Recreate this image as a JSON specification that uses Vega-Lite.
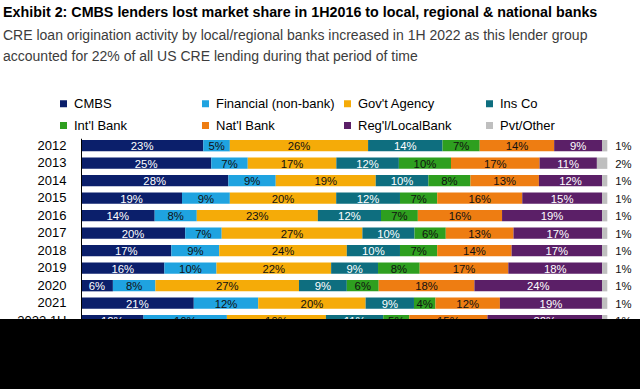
{
  "$schema": "https://vega.github.io/schema/vega-lite/v6.json",
  "width": 640,
  "height": 319,
  "autosize": {"type": "none"},
  "padding": {"left": 0, "top": 0, "right": 0, "bottom": 70},
  "background": "black",
  "view": {"fill": "white", "stroke": null},
  "title": {
    "text": "Exhibit 2: CMBS lenders lost market share in 1H2016 to local, regional & national banks",
    "subtitle": ["CRE loan origination activity by local/regional banks increased in 1H 2022 as this lender group", "accounted for 22% of all US CRE lending during that period of time"],
    "anchor": "start",
    "frame": "group",
    "orient": "top",
    "offset": -64,
    "dx": 3,
    "font": "Liberation Sans",
    "fontSize": 14.3,
    "fontWeight": "bold",
    "color": "black",
    "subtitleFont": "Liberation Sans",
    "subtitleFontSize": 14,
    "subtitleColor": "#3c3c3c",
    "subtitleLineHeight": 21,
    "subtitlePadding": 9
  },
  "data": {"values": [
    {"period": "2012", "lender": "CMBS", "order": 1, "share": 0.23},
    {"period": "2012", "lender": "Financial (non-bank)", "order": 2, "share": 0.05},
    {"period": "2012", "lender": "Gov't Agency", "order": 3, "share": 0.26},
    {"period": "2012", "lender": "Ins Co", "order": 4, "share": 0.14},
    {"period": "2012", "lender": "Int'l Bank", "order": 5, "share": 0.07},
    {"period": "2012", "lender": "Nat'l Bank", "order": 6, "share": 0.14},
    {"period": "2012", "lender": "Reg'l/LocalBank", "order": 7, "share": 0.09},
    {"period": "2012", "lender": "Pvt/Other", "order": 8, "share": 0.01},
    {"period": "2013", "lender": "CMBS", "order": 1, "share": 0.25},
    {"period": "2013", "lender": "Financial (non-bank)", "order": 2, "share": 0.07},
    {"period": "2013", "lender": "Gov't Agency", "order": 3, "share": 0.17},
    {"period": "2013", "lender": "Ins Co", "order": 4, "share": 0.12},
    {"period": "2013", "lender": "Int'l Bank", "order": 5, "share": 0.10},
    {"period": "2013", "lender": "Nat'l Bank", "order": 6, "share": 0.17},
    {"period": "2013", "lender": "Reg'l/LocalBank", "order": 7, "share": 0.11},
    {"period": "2013", "lender": "Pvt/Other", "order": 8, "share": 0.02},
    {"period": "2014", "lender": "CMBS", "order": 1, "share": 0.28},
    {"period": "2014", "lender": "Financial (non-bank)", "order": 2, "share": 0.09},
    {"period": "2014", "lender": "Gov't Agency", "order": 3, "share": 0.19},
    {"period": "2014", "lender": "Ins Co", "order": 4, "share": 0.10},
    {"period": "2014", "lender": "Int'l Bank", "order": 5, "share": 0.08},
    {"period": "2014", "lender": "Nat'l Bank", "order": 6, "share": 0.13},
    {"period": "2014", "lender": "Reg'l/LocalBank", "order": 7, "share": 0.12},
    {"period": "2014", "lender": "Pvt/Other", "order": 8, "share": 0.01},
    {"period": "2015", "lender": "CMBS", "order": 1, "share": 0.19},
    {"period": "2015", "lender": "Financial (non-bank)", "order": 2, "share": 0.09},
    {"period": "2015", "lender": "Gov't Agency", "order": 3, "share": 0.20},
    {"period": "2015", "lender": "Ins Co", "order": 4, "share": 0.12},
    {"period": "2015", "lender": "Int'l Bank", "order": 5, "share": 0.07},
    {"period": "2015", "lender": "Nat'l Bank", "order": 6, "share": 0.16},
    {"period": "2015", "lender": "Reg'l/LocalBank", "order": 7, "share": 0.15},
    {"period": "2015", "lender": "Pvt/Other", "order": 8, "share": 0.01},
    {"period": "2016", "lender": "CMBS", "order": 1, "share": 0.14},
    {"period": "2016", "lender": "Financial (non-bank)", "order": 2, "share": 0.08},
    {"period": "2016", "lender": "Gov't Agency", "order": 3, "share": 0.23},
    {"period": "2016", "lender": "Ins Co", "order": 4, "share": 0.12},
    {"period": "2016", "lender": "Int'l Bank", "order": 5, "share": 0.07},
    {"period": "2016", "lender": "Nat'l Bank", "order": 6, "share": 0.16},
    {"period": "2016", "lender": "Reg'l/LocalBank", "order": 7, "share": 0.19},
    {"period": "2016", "lender": "Pvt/Other", "order": 8, "share": 0.01},
    {"period": "2017", "lender": "CMBS", "order": 1, "share": 0.20},
    {"period": "2017", "lender": "Financial (non-bank)", "order": 2, "share": 0.07},
    {"period": "2017", "lender": "Gov't Agency", "order": 3, "share": 0.27},
    {"period": "2017", "lender": "Ins Co", "order": 4, "share": 0.10},
    {"period": "2017", "lender": "Int'l Bank", "order": 5, "share": 0.06},
    {"period": "2017", "lender": "Nat'l Bank", "order": 6, "share": 0.13},
    {"period": "2017", "lender": "Reg'l/LocalBank", "order": 7, "share": 0.17},
    {"period": "2017", "lender": "Pvt/Other", "order": 8, "share": 0.01},
    {"period": "2018", "lender": "CMBS", "order": 1, "share": 0.17},
    {"period": "2018", "lender": "Financial (non-bank)", "order": 2, "share": 0.09},
    {"period": "2018", "lender": "Gov't Agency", "order": 3, "share": 0.24},
    {"period": "2018", "lender": "Ins Co", "order": 4, "share": 0.10},
    {"period": "2018", "lender": "Int'l Bank", "order": 5, "share": 0.07},
    {"period": "2018", "lender": "Nat'l Bank", "order": 6, "share": 0.14},
    {"period": "2018", "lender": "Reg'l/LocalBank", "order": 7, "share": 0.17},
    {"period": "2018", "lender": "Pvt/Other", "order": 8, "share": 0.01},
    {"period": "2019", "lender": "CMBS", "order": 1, "share": 0.16},
    {"period": "2019", "lender": "Financial (non-bank)", "order": 2, "share": 0.10},
    {"period": "2019", "lender": "Gov't Agency", "order": 3, "share": 0.22},
    {"period": "2019", "lender": "Ins Co", "order": 4, "share": 0.09},
    {"period": "2019", "lender": "Int'l Bank", "order": 5, "share": 0.08},
    {"period": "2019", "lender": "Nat'l Bank", "order": 6, "share": 0.17},
    {"period": "2019", "lender": "Reg'l/LocalBank", "order": 7, "share": 0.18},
    {"period": "2019", "lender": "Pvt/Other", "order": 8, "share": 0.01},
    {"period": "2020", "lender": "CMBS", "order": 1, "share": 0.06},
    {"period": "2020", "lender": "Financial (non-bank)", "order": 2, "share": 0.08},
    {"period": "2020", "lender": "Gov't Agency", "order": 3, "share": 0.27},
    {"period": "2020", "lender": "Ins Co", "order": 4, "share": 0.09},
    {"period": "2020", "lender": "Int'l Bank", "order": 5, "share": 0.06},
    {"period": "2020", "lender": "Nat'l Bank", "order": 6, "share": 0.18},
    {"period": "2020", "lender": "Reg'l/LocalBank", "order": 7, "share": 0.24},
    {"period": "2020", "lender": "Pvt/Other", "order": 8, "share": 0.01},
    {"period": "2021", "lender": "CMBS", "order": 1, "share": 0.21},
    {"period": "2021", "lender": "Financial (non-bank)", "order": 2, "share": 0.12},
    {"period": "2021", "lender": "Gov't Agency", "order": 3, "share": 0.20},
    {"period": "2021", "lender": "Ins Co", "order": 4, "share": 0.09},
    {"period": "2021", "lender": "Int'l Bank", "order": 5, "share": 0.04},
    {"period": "2021", "lender": "Nat'l Bank", "order": 6, "share": 0.12},
    {"period": "2021", "lender": "Reg'l/LocalBank", "order": 7, "share": 0.19},
    {"period": "2021", "lender": "Pvt/Other", "order": 8, "share": 0.01},
    {"period": "2022 1H", "lender": "CMBS", "order": 1, "share": 0.12},
    {"period": "2022 1H", "lender": "Financial (non-bank)", "order": 2, "share": 0.16},
    {"period": "2022 1H", "lender": "Gov't Agency", "order": 3, "share": 0.19},
    {"period": "2022 1H", "lender": "Ins Co", "order": 4, "share": 0.11},
    {"period": "2022 1H", "lender": "Int'l Bank", "order": 5, "share": 0.05},
    {"period": "2022 1H", "lender": "Nat'l Bank", "order": 6, "share": 0.15},
    {"period": "2022 1H", "lender": "Reg'l/LocalBank", "order": 7, "share": 0.22},
    {"period": "2022 1H", "lender": "Pvt/Other", "order": 8, "share": 0.01}
  ]},
  "encoding": {
    "y": {
      "field": "period",
      "type": "nominal",
      "sort": null,
      "title": null,
      "scale": {"range": [138.25, 328.1], "paddingInner": 0.35, "paddingOuter": 0.1},
      "axis": {
        "orient": "left",
        "offset": -81,
        "zindex": 1,
        "domainColor": "black",
        "domainWidth": 1,
        "ticks": false,
        "tickSize": 0,
        "labelPadding": 15,
        "labelFont": "Liberation Sans",
        "labelFontSize": 13,
        "labelColor": "black",
        "grid": false
      }
    }
  },
  "layer": [
    {
      "mark": {"type": "bar", "clip": true},
      "encoding": {
        "x": {"field": "share", "type": "quantitative", "stack": "normalize", "scale": {"domain": [-0.1539, 1.0621], "nice": false, "zero": false}, "axis": null},
        "order": {"field": "order"},
        "color": {
          "field": "lender",
          "type": "nominal",
          "scale": {
            "domain": ["CMBS", "Financial (non-bank)", "Gov't Agency", "Ins Co", "Int'l Bank", "Nat'l Bank", "Reg'l/LocalBank", "Pvt/Other"],
            "range": ["#0b1f6b", "#1fa3e0", "#f5ab08", "#0e6e7f", "#2e9f1f", "#ee7d12", "#5b1f67", "#bfbfbf"]
          },
          "legend": {
            "orient": "none",
            "legendX": 57,
            "legendY": 97,
            "direction": "horizontal",
            "columns": 4,
            "title": null,
            "symbolType": "square",
            "symbolSize": 49,
            "symbolStrokeWidth": 0,
            "labelFont": "Liberation Sans",
            "labelFontSize": 13,
            "labelColor": "black",
            "labelOffset": 4,
            "labelLimit": 300,
            "columnPadding": 6,
            "rowPadding": 8,
            "gridAlign": "all",
            "padding": 0
          }
        }
      }
    },
    {
      "mark": {"type": "text", "clip": true, "font": "Liberation Sans", "fontSize": 11.3, "baseline": "middle", "dy": 1.5},
      "encoding": {
        "x": {"field": "share", "type": "quantitative", "stack": "normalize", "bandPosition": 0.5},
        "order": {"field": "order"},
        "text": {"field": "share", "format": ".0%", "condition": {"test": "datum.lender == 'Pvt/Other'", "value": ""}},
        "color": {"condition": {"test": "datum.lender == 'CMBS' || datum.lender == 'Ins Co' || indexof(datum.lender, 'Reg') == 0", "value": "white"}, "value": "#111111"}
      }
    },
    {
      "transform": [{"filter": "datum.lender == 'Pvt/Other'"}],
      "mark": {"type": "text", "clip": true, "font": "Liberation Sans", "fontSize": 11.3, "baseline": "middle", "align": "left", "dx": 8, "dy": 1.5, "color": "#111111"},
      "encoding": {
        "x": {"datum": 1, "type": "quantitative"},
        "text": {"field": "share", "format": ".0%"}
      }
    }
  ]
}
